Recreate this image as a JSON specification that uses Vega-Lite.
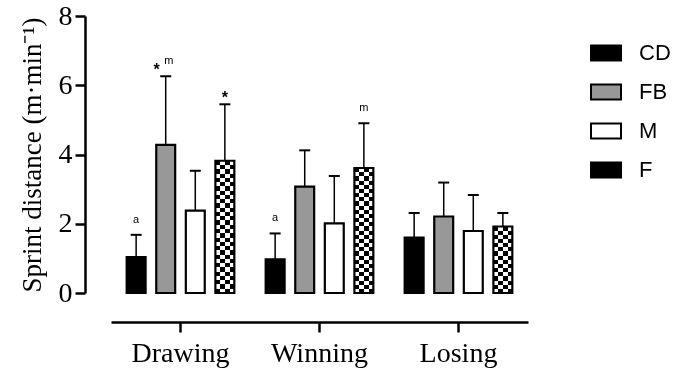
{
  "$schema": "https://vega.github.io/schema/vega-lite/v6.json",
  "width": 417,
  "height": 277,
  "autosize": "none",
  "padding": {"left": 111, "top": 16, "right": 147, "bottom": 75},
  "background": "white",
  "data": {
    "values": [
      {"group": "Drawing", "cat": "CD", "mean": 1.04, "upper": 1.68, "star": "", "letter": "a"},
      {"group": "Drawing", "cat": "FB", "mean": 4.28, "upper": 6.26, "star": "*", "letter": "m"},
      {"group": "Drawing", "cat": "M", "mean": 2.38, "upper": 3.53, "star": "", "letter": ""},
      {"group": "Drawing", "cat": "F", "mean": 3.82, "upper": 5.45, "star": "*", "letter": ""},
      {"group": "Winning", "cat": "CD", "mean": 0.97, "upper": 1.72, "star": "", "letter": "a"},
      {"group": "Winning", "cat": "FB", "mean": 3.07, "upper": 4.12, "star": "", "letter": ""},
      {"group": "Winning", "cat": "M", "mean": 2.01, "upper": 3.38, "star": "", "letter": ""},
      {"group": "Winning", "cat": "F", "mean": 3.61, "upper": 4.90, "star": "", "letter": "m"},
      {"group": "Losing", "cat": "CD", "mean": 1.60, "upper": 2.31, "star": "", "letter": ""},
      {"group": "Losing", "cat": "FB", "mean": 2.21, "upper": 3.19, "star": "", "letter": ""},
      {"group": "Losing", "cat": "M", "mean": 1.79, "upper": 2.83, "star": "", "letter": ""},
      {"group": "Losing", "cat": "F", "mean": 1.92, "upper": 2.31, "star": "", "letter": ""}
    ]
  },
  "encoding": {
    "x": {
      "field": "group", "type": "nominal", "sort": ["Drawing", "Winning", "Losing"],
      "scale": {"paddingInner": 0, "paddingOuter": 0},
      "axis": {"title": null, "labelAngle": 0}
    },
    "xOffset": {
      "field": "cat", "type": "nominal", "sort": ["CD", "FB", "M", "F"],
      "scale": {"paddingInner": 0.36, "paddingOuter": 0.53}
    },
    "y": {
      "field": "mean", "type": "quantitative",
      "scale": {"domain": [0, 8], "nice": false},
      "axis": {"values": [0, 2, 4, 6, 8], "title": "Sprint distance (m·min⁻¹)"}
    }
  },
  "layer": [
    {
      "mark": {"type": "bar", "strokeWidth": 0},
      "encoding": {
        "fill": {
          "field": "cat", "type": "nominal",
          "scale": {"domain": ["CD", "FB", "M", "F"], "range": ["#000000", "#989898", "#ffffff", "#000000"]},
          "legend": {
            "title": null, "orient": "none", "legendX": 479, "legendY": 21,
            "symbolType": "M-1,-0.5H1V0.5H-1Z", "symbolSize": 900,
            "symbolStrokeColor": "black", "symbolStrokeWidth": 2, "symbolOpacity": 1,
            "labelFont": "Liberation Sans", "labelFontSize": 22, "labelColor": "black",
            "labelOffset": 17, "rowPadding": 11, "labelLimit": 100
          }
        }
      }
    },
    {
      "transform": [{"filter": "datum.cat === 'F'"}],
      "mark": {"type": "bar", "strokeWidth": 0},
      "encoding": {
        "fill": {
          "condition": [
            {"test": "datum.group === 'Drawing'", "value": {"gradient": "linear", "x1": 0, "y1": 0, "x2": 0, "y2": 1, "stops": [
              {"offset": 0, "color": "#000"}, {"offset": 0.0323, "color": "#000"},
              {"offset": 0.0323, "color": "#fff"}, {"offset": 0.0645, "color": "#fff"},
              {"offset": 0.0645, "color": "#000"}, {"offset": 0.0968, "color": "#000"},
              {"offset": 0.0968, "color": "#fff"}, {"offset": 0.129, "color": "#fff"},
              {"offset": 0.129, "color": "#000"}, {"offset": 0.1613, "color": "#000"},
              {"offset": 0.1613, "color": "#fff"}, {"offset": 0.1935, "color": "#fff"},
              {"offset": 0.1935, "color": "#000"}, {"offset": 0.2258, "color": "#000"},
              {"offset": 0.2258, "color": "#fff"}, {"offset": 0.2581, "color": "#fff"},
              {"offset": 0.2581, "color": "#000"}, {"offset": 0.2903, "color": "#000"},
              {"offset": 0.2903, "color": "#fff"}, {"offset": 0.3226, "color": "#fff"},
              {"offset": 0.3226, "color": "#000"}, {"offset": 0.3548, "color": "#000"},
              {"offset": 0.3548, "color": "#fff"}, {"offset": 0.3871, "color": "#fff"},
              {"offset": 0.3871, "color": "#000"}, {"offset": 0.4194, "color": "#000"},
              {"offset": 0.4194, "color": "#fff"}, {"offset": 0.4516, "color": "#fff"},
              {"offset": 0.4516, "color": "#000"}, {"offset": 0.4839, "color": "#000"},
              {"offset": 0.4839, "color": "#fff"}, {"offset": 0.5161, "color": "#fff"},
              {"offset": 0.5161, "color": "#000"}, {"offset": 0.5484, "color": "#000"},
              {"offset": 0.5484, "color": "#fff"}, {"offset": 0.5806, "color": "#fff"},
              {"offset": 0.5806, "color": "#000"}, {"offset": 0.6129, "color": "#000"},
              {"offset": 0.6129, "color": "#fff"}, {"offset": 0.6452, "color": "#fff"},
              {"offset": 0.6452, "color": "#000"}, {"offset": 0.6774, "color": "#000"},
              {"offset": 0.6774, "color": "#fff"}, {"offset": 0.7097, "color": "#fff"},
              {"offset": 0.7097, "color": "#000"}, {"offset": 0.7419, "color": "#000"},
              {"offset": 0.7419, "color": "#fff"}, {"offset": 0.7742, "color": "#fff"},
              {"offset": 0.7742, "color": "#000"}, {"offset": 0.8065, "color": "#000"},
              {"offset": 0.8065, "color": "#fff"}, {"offset": 0.8387, "color": "#fff"},
              {"offset": 0.8387, "color": "#000"}, {"offset": 0.871, "color": "#000"},
              {"offset": 0.871, "color": "#fff"}, {"offset": 0.9032, "color": "#fff"},
              {"offset": 0.9032, "color": "#000"}, {"offset": 0.9355, "color": "#000"},
              {"offset": 0.9355, "color": "#fff"}, {"offset": 0.9677, "color": "#fff"},
              {"offset": 0.9677, "color": "#000"}, {"offset": 1, "color": "#000"}
            ]}},
            {"test": "datum.group === 'Winning'", "value": {"gradient": "linear", "x1": 0, "y1": 0, "x2": 0, "y2": 1, "stops": [
              {"offset": 0, "color": "#000"}, {"offset": 0.0333, "color": "#000"},
              {"offset": 0.0333, "color": "#fff"}, {"offset": 0.0667, "color": "#fff"},
              {"offset": 0.0667, "color": "#000"}, {"offset": 0.1, "color": "#000"},
              {"offset": 0.1, "color": "#fff"}, {"offset": 0.1333, "color": "#fff"},
              {"offset": 0.1333, "color": "#000"}, {"offset": 0.1667, "color": "#000"},
              {"offset": 0.1667, "color": "#fff"}, {"offset": 0.2, "color": "#fff"},
              {"offset": 0.2, "color": "#000"}, {"offset": 0.2333, "color": "#000"},
              {"offset": 0.2333, "color": "#fff"}, {"offset": 0.2667, "color": "#fff"},
              {"offset": 0.2667, "color": "#000"}, {"offset": 0.3, "color": "#000"},
              {"offset": 0.3, "color": "#fff"}, {"offset": 0.3333, "color": "#fff"},
              {"offset": 0.3333, "color": "#000"}, {"offset": 0.3667, "color": "#000"},
              {"offset": 0.3667, "color": "#fff"}, {"offset": 0.4, "color": "#fff"},
              {"offset": 0.4, "color": "#000"}, {"offset": 0.4333, "color": "#000"},
              {"offset": 0.4333, "color": "#fff"}, {"offset": 0.4667, "color": "#fff"},
              {"offset": 0.4667, "color": "#000"}, {"offset": 0.5, "color": "#000"},
              {"offset": 0.5, "color": "#fff"}, {"offset": 0.5333, "color": "#fff"},
              {"offset": 0.5333, "color": "#000"}, {"offset": 0.5667, "color": "#000"},
              {"offset": 0.5667, "color": "#fff"}, {"offset": 0.6, "color": "#fff"},
              {"offset": 0.6, "color": "#000"}, {"offset": 0.6333, "color": "#000"},
              {"offset": 0.6333, "color": "#fff"}, {"offset": 0.6667, "color": "#fff"},
              {"offset": 0.6667, "color": "#000"}, {"offset": 0.7, "color": "#000"},
              {"offset": 0.7, "color": "#fff"}, {"offset": 0.7333, "color": "#fff"},
              {"offset": 0.7333, "color": "#000"}, {"offset": 0.7667, "color": "#000"},
              {"offset": 0.7667, "color": "#fff"}, {"offset": 0.8, "color": "#fff"},
              {"offset": 0.8, "color": "#000"}, {"offset": 0.8333, "color": "#000"},
              {"offset": 0.8333, "color": "#fff"}, {"offset": 0.8667, "color": "#fff"},
              {"offset": 0.8667, "color": "#000"}, {"offset": 0.9, "color": "#000"},
              {"offset": 0.9, "color": "#fff"}, {"offset": 0.9333, "color": "#fff"},
              {"offset": 0.9333, "color": "#000"}, {"offset": 0.9667, "color": "#000"},
              {"offset": 0.9667, "color": "#fff"}, {"offset": 1, "color": "#fff"}
            ]}}
          ],
          "value": {"gradient": "linear", "x1": 0, "y1": 0, "x2": 0, "y2": 1, "stops": [
            {"offset": 0, "color": "#000"}, {"offset": 0.0625, "color": "#000"},
            {"offset": 0.0625, "color": "#fff"}, {"offset": 0.125, "color": "#fff"},
            {"offset": 0.125, "color": "#000"}, {"offset": 0.1875, "color": "#000"},
            {"offset": 0.1875, "color": "#fff"}, {"offset": 0.25, "color": "#fff"},
            {"offset": 0.25, "color": "#000"}, {"offset": 0.3125, "color": "#000"},
            {"offset": 0.3125, "color": "#fff"}, {"offset": 0.375, "color": "#fff"},
            {"offset": 0.375, "color": "#000"}, {"offset": 0.4375, "color": "#000"},
            {"offset": 0.4375, "color": "#fff"}, {"offset": 0.5, "color": "#fff"},
            {"offset": 0.5, "color": "#000"}, {"offset": 0.5625, "color": "#000"},
            {"offset": 0.5625, "color": "#fff"}, {"offset": 0.625, "color": "#fff"},
            {"offset": 0.625, "color": "#000"}, {"offset": 0.6875, "color": "#000"},
            {"offset": 0.6875, "color": "#fff"}, {"offset": 0.75, "color": "#fff"},
            {"offset": 0.75, "color": "#000"}, {"offset": 0.8125, "color": "#000"},
            {"offset": 0.8125, "color": "#fff"}, {"offset": 0.875, "color": "#fff"},
            {"offset": 0.875, "color": "#000"}, {"offset": 0.9375, "color": "#000"},
            {"offset": 0.9375, "color": "#fff"}, {"offset": 1, "color": "#fff"}
          ]}
        }
      }
    },
    {
      "transform": [{"filter": "datum.cat === 'F'"}],
      "mark": {
        "type": "bar", "strokeWidth": 0, "blend": "difference",
        "fill": {"gradient": "linear", "x1": 0, "y1": 0, "x2": 1, "y2": 0, "stops": [
          {"offset": 0, "color": "#000"}, {"offset": 0.25, "color": "#000"},
          {"offset": 0.25, "color": "#fff"}, {"offset": 0.5, "color": "#fff"},
          {"offset": 0.5, "color": "#000"}, {"offset": 0.75, "color": "#000"},
          {"offset": 0.75, "color": "#fff"}, {"offset": 1, "color": "#fff"}
        ]}
      }
    },
    {
      "mark": {"type": "bar", "fill": "transparent", "stroke": "black", "strokeWidth": 2.2}
    },
    {
      "mark": {"type": "rule", "color": "black", "strokeWidth": 1.5},
      "encoding": {"y2": {"field": "upper"}}
    },
    {
      "mark": {"type": "tick", "color": "black", "thickness": 2, "size": 11, "opacity": 1, "orient": "horizontal"},
      "encoding": {
        "y": {"field": "upper", "type": "quantitative", "axis": {"values": [0, 2, 4, 6, 8], "title": "Sprint distance (m·min⁻¹)"}}
      }
    },
    {
      "transform": [{"filter": "datum.star !== '' && datum.letter === ''"}],
      "mark": {"type": "text", "font": "Liberation Sans", "fontSize": 16, "fontWeight": "bold", "color": "black", "baseline": "alphabetic", "dy": -1},
      "encoding": {
        "y": {"field": "upper", "type": "quantitative", "axis": {"values": [0, 2, 4, 6, 8], "title": "Sprint distance (m·min⁻¹)"}},
        "text": {"field": "star"}
      }
    },
    {
      "transform": [{"filter": "datum.star !== '' && datum.letter !== ''"}],
      "mark": {"type": "text", "font": "Liberation Sans", "fontSize": 16, "fontWeight": "bold", "color": "black", "baseline": "alphabetic", "dy": -1, "dx": -9},
      "encoding": {
        "y": {"field": "upper", "type": "quantitative", "axis": {"values": [0, 2, 4, 6, 8], "title": "Sprint distance (m·min⁻¹)"}},
        "text": {"field": "star"}
      }
    },
    {
      "transform": [{"filter": "datum.letter !== '' && datum.star === ''"}],
      "mark": {"type": "text", "font": "Liberation Sans", "fontSize": 11, "color": "black", "baseline": "alphabetic", "dy": -12},
      "encoding": {
        "y": {"field": "upper", "type": "quantitative", "axis": {"values": [0, 2, 4, 6, 8], "title": "Sprint distance (m·min⁻¹)"}},
        "text": {"field": "letter"}
      }
    },
    {
      "transform": [{"filter": "datum.letter !== '' && datum.star !== ''"}],
      "mark": {"type": "text", "font": "Liberation Sans", "fontSize": 11, "color": "black", "baseline": "alphabetic", "dy": -12, "dx": 3},
      "encoding": {
        "y": {"field": "upper", "type": "quantitative", "axis": {"values": [0, 2, 4, 6, 8], "title": "Sprint distance (m·min⁻¹)"}},
        "text": {"field": "letter"}
      }
    }
  ],
  "config": {
    "view": {"stroke": null},
    "axisY": {
      "domainColor": "black", "domainWidth": 2.5, "tickColor": "black", "tickWidth": 2.5, "tickSize": 10,
      "labelFont": "Liberation Serif", "labelFontSize": 28, "labelColor": "black", "labelPadding": 3,
      "titleFont": "Liberation Serif", "titleFontSize": 27, "titleFontWeight": "normal", "titleColor": "black",
      "titlePadding": 12, "grid": false, "offset": 26
    },
    "axisX": {
      "domainColor": "black", "domainWidth": 2.5, "tickColor": "black", "tickWidth": 2.5, "tickSize": 10,
      "labelFont": "Liberation Serif", "labelFontSize": 28, "labelColor": "black", "labelPadding": 7,
      "grid": false, "offset": 29
    }
  }
}
